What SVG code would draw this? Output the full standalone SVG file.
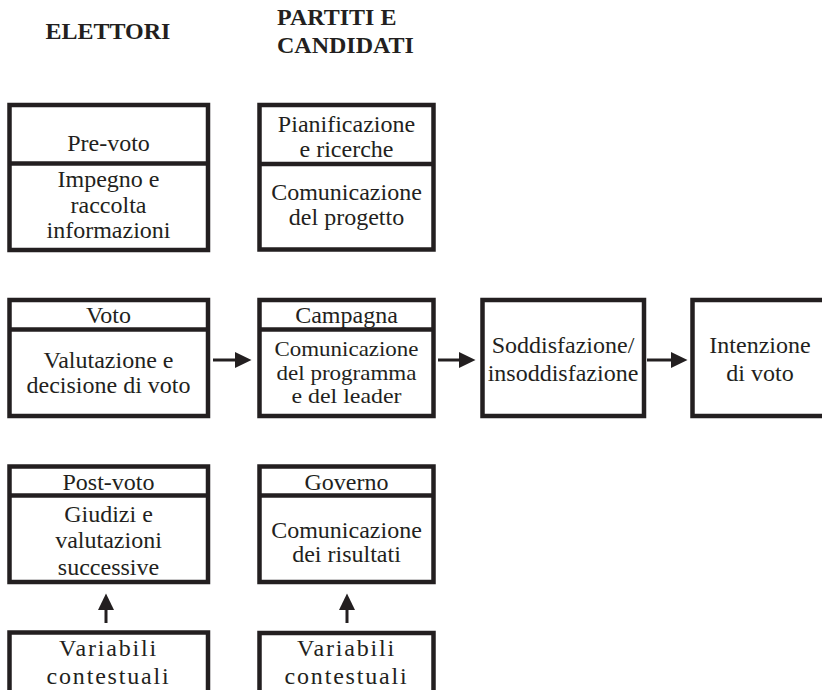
<svg xmlns="http://www.w3.org/2000/svg" width="822" height="690" viewBox="0 0 822 690">
<style>
.box{fill:#fff;stroke:#231f20;stroke-width:4.5}
.div{stroke:#231f20;stroke-width:4.5}
text{font-family:"Liberation Serif","Times New Roman",serif;font-size:24px;fill:#231f20;text-anchor:middle}
.hd{font-weight:bold}
.sm{font-size:21px}
.sp{letter-spacing:1.8px}
.conn{stroke:#231f20;stroke-width:3;fill:none;marker-end:url(#ah)}
</style>
<defs>
<marker id="ah" markerUnits="userSpaceOnUse" markerWidth="17" markerHeight="17" viewBox="0 0 17 17" refX="0" refY="8.5" orient="auto">
<path d="M0,0.5 L16.5,8.5 L0,16.5 z" fill="#231f20"/>
</marker>
</defs>
<rect width="822" height="690" fill="#fff"/>
<g id="headers">
<text class="hd" x="108" y="39">ELETTORI</text>
<text class="hd" x="277" y="25" style="text-anchor:start">PARTITI E</text>
<text class="hd" x="277" y="53" style="text-anchor:start">CANDIDATI</text>
</g>
<g id="pre-voto">
<rect class="box" x="9.5" y="105" width="198.5" height="145"/>
<line class="div" x1="9.5" y1="163.5" x2="208" y2="163.5"/>
<text x="108.5" y="151">Pre-voto</text>
<text x="108.5" y="186.5">Impegno e</text>
<text x="108.5" y="212.5">raccolta</text>
<text x="108.5" y="238">informazioni</text>
</g>
<g id="pianificazione">
<rect class="box" x="259.5" y="105" width="174" height="144.5"/>
<line class="div" x1="259.5" y1="164" x2="433.5" y2="164"/>
<text x="346.5" y="131.5">Pianificazione</text>
<text x="346.5" y="156.5">e ricerche</text>
<text x="346.5" y="200">Comunicazione</text>
<text x="346.5" y="224.5">del progetto</text>
</g>
<g id="voto">
<rect class="box" x="9.5" y="300" width="198.5" height="116"/>
<line class="div" x1="9.5" y1="329.5" x2="208" y2="329.5"/>
<text x="108.5" y="323">Voto</text>
<text x="108.5" y="368">Valutazione e</text>
<text x="108.5" y="393">decisione di voto</text>
</g>
<g id="campagna">
<rect class="box" x="259.5" y="300" width="174" height="116"/>
<line class="div" x1="259.5" y1="329.5" x2="433.5" y2="329.5"/>
<text x="346.5" y="323">Campagna</text>
<text class="sm" x="346.5" y="356" textLength="144" lengthAdjust="spacingAndGlyphs">Comunicazione</text>
<text class="sm" x="346.5" y="379.5" textLength="140" lengthAdjust="spacingAndGlyphs">del programma</text>
<text class="sm" x="346.5" y="403" textLength="110" lengthAdjust="spacingAndGlyphs">e del leader</text>
</g>
<g id="soddisfazione">
<rect class="box" x="482.5" y="300" width="161.5" height="116"/>
<text x="563" y="353">Soddisfazione/</text>
<text x="563" y="381">insoddisfazione</text>
</g>
<g id="intenzione">
<rect class="box" x="692.5" y="300" width="136" height="116"/>
<text x="760" y="353">Intenzione</text>
<text x="760" y="381">di voto</text>
</g>
<g id="post-voto">
<rect class="box" x="9.5" y="466.5" width="198.5" height="115.5"/>
<line class="div" x1="9.5" y1="495.5" x2="208" y2="495.5"/>
<text x="108.5" y="490">Post-voto</text>
<text x="108.5" y="521.5">Giudizi e</text>
<text x="108.5" y="548">valutazioni</text>
<text x="108.5" y="575">successive</text>
</g>
<g id="governo">
<rect class="box" x="259.5" y="466.5" width="174" height="115.5"/>
<line class="div" x1="259.5" y1="495.5" x2="433.5" y2="495.5"/>
<text x="346.5" y="490">Governo</text>
<text x="346.5" y="538">Comunicazione</text>
<text x="346.5" y="561.5">dei risultati</text>
</g>
<g id="variabili-elettori">
<rect class="box" x="9.5" y="632.5" width="198.5" height="80"/>
<text class="sp" x="108.5" y="656">Variabili</text>
<text class="sp" x="108.5" y="683.5">contestuali</text>
</g>
<g id="variabili-partiti">
<rect class="box" x="259.5" y="633" width="174" height="80"/>
<text class="sp" x="346.5" y="656">Variabili</text>
<text class="sp" x="346.5" y="683.5">contestuali</text>
</g>
<g id="connectors">
<line class="conn" x1="213" y1="360" x2="235" y2="360"/>
<line class="conn" x1="438" y1="360" x2="459" y2="360"/>
<line class="conn" x1="647" y1="360" x2="671" y2="360"/>
<line class="conn" x1="106" y1="623" x2="106" y2="610"/>
<line class="conn" x1="347" y1="623" x2="347" y2="610"/>
</g>
</svg>
